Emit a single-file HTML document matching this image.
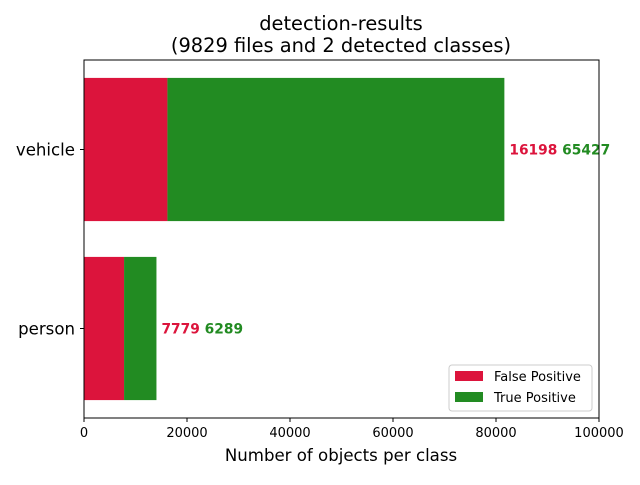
<!DOCTYPE html>
<html><head><meta charset="utf-8"><style>
body{margin:0;background:#fff;}
svg text{font-family:"DejaVu Sans","Liberation Sans",sans-serif;}
</style></head><body>
<svg id="chart" width="640" height="480" xmlns="http://www.w3.org/2000/svg">
<rect width="640" height="480" fill="#fff"/>
<text x="341" y="30" text-anchor="middle" font-size="19.4">detection-results</text>
<text x="341" y="52" text-anchor="middle" font-size="19.4">(9829 files and 2 detected classes)</text>
<g id="plot"></g>
<rect x="84" y="60" width="515" height="358" fill="none" stroke="#000" stroke-width="1"/>
<text x="341" y="461" text-anchor="middle" font-size="16.6">Number of objects per class</text>
<g>
<rect x="449" y="365" width="143" height="46" rx="3" fill="#fff" fill-opacity="0.8" stroke="#ccc"/>
<rect x="455" y="371" width="28" height="10" fill="#dc143c"/>
<text x="494" y="381" font-size="13">False Positive</text>
<rect x="455" y="392" width="28" height="10" fill="#228b22"/>
<text x="494" y="402" font-size="13">True Positive</text>
</g>
</svg>
<script>
const categories = ["person", "vehicle"];
const falsePositives = [7779, 16198];
const truePositives = [6289, 65427];
const xTicks = [0, 20000, 40000, 60000, 80000, 100000];

const X0 = 84, X1 = 599, Y0 = 60, Y1 = 418, XMAX = 100000;
const xs = v => X0 + v / XMAX * (X1 - X0);
const ys = i => Y1 - (i + 0.5) / categories.length * (Y1 - Y0);
const unit = (Y1 - Y0) / categories.length;
const NS = "http://www.w3.org/2000/svg";
const g = document.getElementById("plot");
function mk(tag, attrs, text) {
  const e = document.createElementNS(NS, tag);
  for (const k in attrs) e.setAttribute(k, attrs[k]);
  if (text !== undefined) e.textContent = text;
  g.appendChild(e);
  return e;
}
categories.forEach((c, i) => {
  const cy = ys(i), h = unit * 0.8;
  const fp = mk("rect", {x: xs(0), y: cy - h / 2, width: xs(falsePositives[i]) - xs(0), height: h, fill: "#dc143c"});
  
  
  const tp = mk("rect", {x: xs(falsePositives[i]), y: cy - h / 2, width: xs(falsePositives[i] + truePositives[i]) - xs(falsePositives[i]), height: h, fill: "#228b22"});
  
  
  const lbl = mk("text", {x: xs(falsePositives[i] + truePositives[i]) + 5, y: cy + 5, "font-size": 13.8, "font-weight": "bold"});
  
  
  const t1 = document.createElementNS(NS, "tspan"); t1.setAttribute("fill", "#dc143c"); t1.textContent = falsePositives[i] + " ";
  const t2 = document.createElementNS(NS, "tspan"); t2.setAttribute("fill", "#228b22"); t2.textContent = truePositives[i];
  lbl.appendChild(t1); lbl.appendChild(t2);
  const tk = mk("line", {x1: X0 - 4, x2: X0, y1: cy, y2: cy, stroke: "#000"});
  
  
  const tl = mk("text", {x: X0 - 9, y: cy + 6, "text-anchor": "end", "font-size": 16.6}, c);
  
  
});
xTicks.forEach(v => {
  const tk = mk("line", {x1: xs(v), x2: xs(v), y1: Y1, y2: Y1 + 4, stroke: "#000"});
  
  
  const tl = mk("text", {x: xs(v), y: Y1 + 19, "text-anchor": "middle", "font-size": 13}, v);
  
  
});
</script>
</body></html>
